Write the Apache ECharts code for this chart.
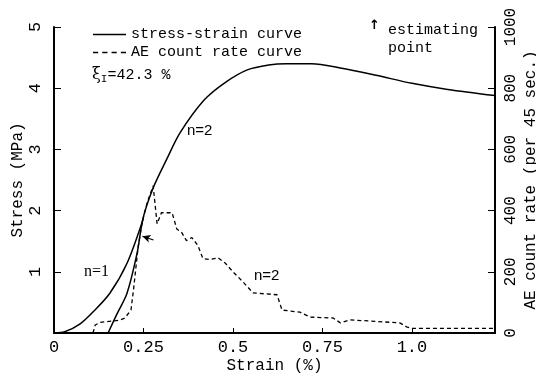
<!DOCTYPE html>
<html>
<head>
<meta charset="utf-8">
<script src="https://cdn.jsdelivr.net/npm/echarts@6/dist/echarts.min.js"></script>
<style>html,body{margin:0;padding:0;background:#fff}#c{width:536px;height:376px}</style>
</head>
<body>
<div id="c"></div>
<script>
// Main stress-strain curve (n=2)
const mainStrain = [0.151,0.175,0.204,0.232,0.249,0.277,0.315,0.352,0.42,0.48,0.54,0.6,0.65,0.72,0.8,0.9,1.0,1.1,1.232];
const mainStress = [0,0.3,0.65,1.3,1.88,2.37,2.84,3.27,3.81,4.1,4.3,4.38,4.40,4.40,4.33,4.21,4.08,3.98,3.88];
// First loading curve (n=1)
const n1Strain = [0,0.03,0.073,0.11,0.156,0.204,0.249];
const n1Stress = [0,0.02,0.15,0.35,0.65,1.14,1.86];
// AE count rate curve
const aeStrain = [0.109,0.115,0.13,0.184,0.198,0.215,0.222,0.226,0.235,0.246,0.26,0.277,0.288,0.30,0.33,0.343,0.357,0.37,0.385,0.402,0.416,0.436,0.458,0.478,0.5,0.528,0.556,0.623,0.637,0.687,0.715,0.78,0.8,0.827,0.966,0.985,1.0,1.232];
const aeRate = [0,26,35,42,49,75,140,183,281,360,425,481,357,393,393,340,328,302,312,286,243,240,246,229,200,167,131,125,75,68,52,49,33,43,33,20,15,15];
// Estimating point arrow (from, to) in data coords
const arrowFrom = [0.278,1.52];
const arrowTo = [0.247,1.58];
const xTicks = [0,0.25,0.5,0.75,1.0];
const xTickLabels = ['0','0.25','0.5','0.75','1.0'];

const font = 'Liberation Mono';
const zip = (a,b) => a.map((v,i)=>[v,b[i]]);
const chart = echarts.init(document.getElementById('c'));
chart.setOption({
  animation:false,
  backgroundColor:'#fff',
  grid:{left:54,right:41,top:27,bottom:43,containLabel:false,outerBoundsMode:'none'},
  legend:{
    orient:'vertical', left:88, top:22, itemWidth:33, itemHeight:2, itemGap:3,
    data:[
      {name:'stress-strain curve',icon:'path://M0 0H33V1.6H0Z'},
      {name:'AE count rate curve',icon:'path://M0 0H5V1.6H0Z M9 0H14V1.6H9Z M18 0H23V1.6H18Z M27 0H32V1.6H27Z'}
    ],
    itemStyle:{color:'#000'},
    textStyle:{fontFamily:font,fontSize:15,color:'#000'}
  },
  xAxis:{
    type:'value',min:0,max:1.232,interval:0.25,
    name:'Strain (%)',nameLocation:'middle',nameGap:25,nameMoveOverlap:false,
    nameTextStyle:{fontFamily:font,fontSize:16,color:'#000'},
    axisLine:{lineStyle:{color:'#000',width:2}},
    axisTick:{inside:true,length:5,lineStyle:{color:'#000'}},
    splitLine:{show:false},
    axisLabel:{fontFamily:font,fontSize:17,color:'#000',margin:6,
      formatter:v=>{const i=xTicks.findIndex(t=>Math.abs(t-v)<1e-6);return i>=0?xTickLabels[i]:'';}}
  },
  yAxis:[{
    type:'value',min:0,max:5,interval:1,position:'left',
    name:'Stress (MPa)',nameLocation:'middle',nameGap:28,nameRotate:90,nameMoveOverlap:false,
    nameTextStyle:{fontFamily:font,fontSize:16,color:'#000'},
    axisLine:{show:true,lineStyle:{color:'#000',width:2}},
    axisTick:{show:true,inside:true,length:7,lineStyle:{color:'#000'}},
    splitLine:{show:false},
    axisLabel:{rotate:90,fontFamily:font,fontSize:17,color:'#000',margin:10,formatter:v=>v===0?'':String(v)}
  },{
    type:'value',min:0,max:1000,interval:200,position:'right',
    name:'AE count rate (per 45 sec.)',nameLocation:'middle',nameGap:28,nameRotate:90,nameMoveOverlap:false,
    nameTextStyle:{fontFamily:font,fontSize:16,color:'#000'},
    axisLine:{show:true,lineStyle:{color:'#000',width:2}},
    axisTick:{show:true,inside:true,length:7,lineStyle:{color:'#000'}},
    splitLine:{show:false},
    axisLabel:{rotate:90,fontFamily:font,fontSize:16,color:'#000',margin:8,formatter:v=>String(v)}
  }],
  series:[{
    name:'stress-strain curve',type:'line',yAxisIndex:0,data:zip(mainStrain,mainStress),
    symbol:'none',smooth:0.3,lineStyle:{color:'#000',width:1.5},itemStyle:{color:'#000'},
    markLine:{silent:true,symbol:['none','arrow'],symbolSize:[6,8],label:{show:false},
      lineStyle:{color:'#000',width:1.2,type:'solid'},
      data:[[{coord:arrowFrom},{coord:arrowTo}]]}
  },{
    name:'n1',type:'line',yAxisIndex:0,data:zip(n1Strain,n1Stress),
    symbol:'none',smooth:0.3,lineStyle:{color:'#000',width:1.5}
  },{
    name:'AE count rate curve',type:'line',yAxisIndex:1,data:zip(aeStrain,aeRate),
    symbol:'none',lineStyle:{color:'#000',width:1.3,type:[4,3]},itemStyle:{color:'#000'}
  }],
  graphic:[
    {type:'text',left:92,top:67,style:{rich:{a:{fontFamily:'DejaVu Serif',fontSize:16,fill:'#000'},s:{fontFamily:font,fontSize:11,fill:'#000',padding:[8,0,0,0]},b:{fontFamily:font,fontSize:15,fill:'#000'}},text:'{a|ξ}{s|I}{b|=42.3 %}'}},
    {type:'text',left:369,top:19,style:{text:'↑',fontFamily:'DejaVu Sans',fontSize:13,fontWeight:'bold',fill:'#000'}},
    {type:'text',left:388,top:21,style:{text:'estimating\npoint',fontFamily:font,fontSize:15,lineHeight:18,fill:'#000'}},
    {type:'text',left:84,top:264,style:{text:'n=1',fontFamily:'Liberation Serif',fontSize:16,fill:'#000'}},
    {type:'text',left:187,top:123,style:{text:'n=2',fontFamily:'Liberation Sans',fontSize:15,fill:'#000'}},
    {type:'text',left:254,top:268,style:{text:'n=2',fontFamily:'Liberation Sans',fontSize:15,fill:'#000'}}
  ]
});
</script>
</body>
</html>
